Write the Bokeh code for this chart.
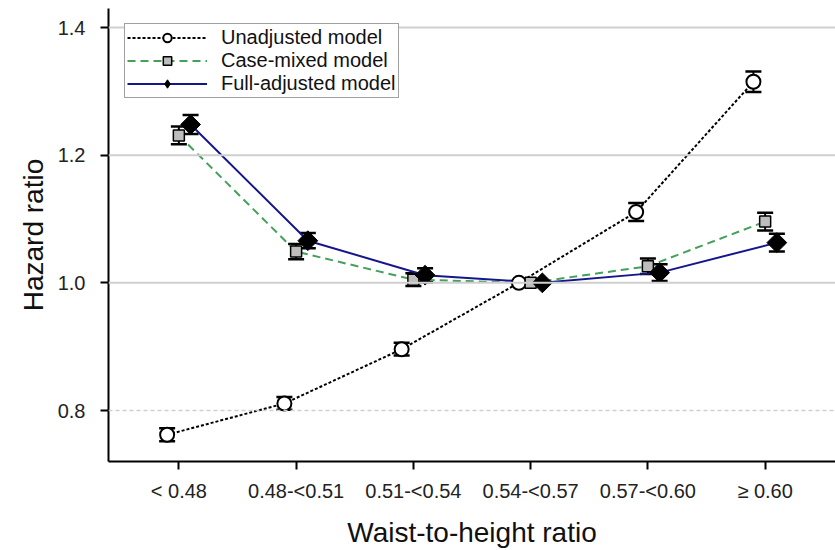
import math
from bokeh.plotting import figure
from bokeh.models import (ColumnDataSource, FactorRange, Range1d, Span, Whisker, TeeHead,
                          Legend, LegendItem, FixedTicker, PrintfTickFormatter)
from bokeh.transform import dodge
from bokeh.embed import file_html
from bokeh.resources import INLINE

categories = ["< 0.48", "0.48-<0.51", "0.51-<0.54", "0.54-<0.57", "0.57-<0.60", "\u2265 0.60"]

unadj_hr = [0.762, 0.811, 0.896, 1.000, 1.111, 1.315]
unadj_err = [0.010, 0.010, 0.010, 0.000, 0.014, 0.016]

case_hr = [1.231, 1.049, 1.005, 1.000, 1.026, 1.096]
case_err = [0.014, 0.012, 0.010, 0.000, 0.012, 0.014]

full_hr = [1.248, 1.066, 1.012, 1.000, 1.016, 1.063]
full_err = [0.015, 0.012, 0.011, 0.000, 0.013, 0.014]

y_ticks = [0.8, 1.0, 1.2, 1.4]
grid_solid = [1.0, 1.2, 1.4]
grid_dashed = [0.8]

FONT = "Liberation Sans"

def make_src(hr, err):
    return ColumnDataSource(dict(
        cat=categories, hr=hr,
        lower=[h - e for h, e in zip(hr, err)],
        upper=[h + e for h, e in zip(hr, err)],
    ))

src_u = make_src(unadj_hr, unadj_err)
src_c = make_src(case_hr, case_err)
src_f = make_src(full_hr, full_err)

p = figure(width=835, height=550, output_backend="svg", toolbar_location=None,
           x_range=FactorRange(factors=categories, range_padding=0.1,
                               range_padding_units="absolute"),
           y_range=Range1d(0.7201, 1.4298),
           min_border_left=108, min_border_right=0, min_border_top=8, min_border_bottom=89)

p.outline_line_color = None
p.xgrid.grid_line_color = None
p.ygrid.grid_line_color = None
p.background_fill_color = "white"

for lv in grid_solid:
    p.add_layout(Span(location=lv, dimension="width", line_color="#cfcfcf", line_width=2))
for lv in grid_dashed:
    p.add_layout(Span(location=lv, dimension="width", line_color="#cfcfcf", line_width=1.5,
                      line_dash="4 3"))

off = 0.1
xu = dodge("cat", -off, range=p.x_range)
xc = dodge("cat", 0.0, range=p.x_range)
xf = dodge("cat", off, range=p.x_range)

lu = p.line(x=xu, y="hr", source=src_u, line_color="black", line_width=2, line_dash="3 2")
lc = p.line(x=xc, y="hr", source=src_c, line_color="#45a05c", line_width=2, line_dash="8 5")
lf = p.line(x=xf, y="hr", source=src_f, line_color="#16168c", line_width=2)

for src, xx in ((src_u, xu), (src_c, xc), (src_f, xf)):
    w = Whisker(base=xx, upper="upper", lower="lower", source=src, dimension="height",
                line_color="black", line_width=2,
                upper_head=TeeHead(size=16, line_color="black", line_width=2.5),
                lower_head=TeeHead(size=16, line_color="black", line_width=2.5))
    p.add_layout(w)

mu = p.scatter(x=xu, y="hr", source=src_u, marker="circle", size=14,
               fill_color="white", line_color="black", line_width=2)
mc = p.scatter(x=xc, y="hr", source=src_c, marker="square", size=11,
               fill_color="#bdbdbd", line_color="black", line_width=1.5)
# diamond (used for the legend sample), covered by the rotated square below
md = p.scatter(x=xf, y="hr", source=src_f, marker="diamond", size=13,
               fill_color="black", line_color="black", line_width=1)
mf = p.scatter(x=xf, y="hr", source=src_f, marker="square", size=14, angle=math.pi / 4,
               fill_color="black", line_color="black", line_width=1)

legend = Legend(items=[
    LegendItem(label="Unadjusted model", renderers=[lu, mu]),
    LegendItem(label="Case-mixed model", renderers=[lc, mc]),
    LegendItem(label="Full-adjusted model", renderers=[lf, md]),
], location=(16, 363), orientation="vertical")
legend.label_text_font = FONT
legend.label_text_font_size = "20px"
legend.label_text_color = "#111111"
legend.glyph_width = 80
legend.glyph_height = 21
legend.label_height = 21
legend.spacing = 0
legend.padding = 2
legend.margin = 0
legend.label_standoff = 14
legend.border_line_color = "#444444"
legend.border_line_width = 1.2
legend.background_fill_alpha = 1
p.add_layout(legend, "center")

# axes
p.yaxis.ticker = FixedTicker(ticks=y_ticks)
p.yaxis.formatter = PrintfTickFormatter(format="%.1f")
p.yaxis.axis_label = "Hazard ratio"
p.xaxis.axis_label = "Waist-to-height ratio"
for ax in (p.xaxis[0], p.yaxis[0]):
    ax.axis_line_width = 2
    ax.axis_line_color = "black"
    ax.major_tick_line_width = 2
    ax.major_tick_line_color = "black"
    ax.major_tick_out = 8
    ax.major_tick_in = 0
    ax.minor_tick_line_color = None
    ax.major_label_text_font = FONT
    ax.major_label_text_font_size = "20px"
    ax.major_label_text_color = "#222222"
    ax.axis_label_text_font = FONT
    ax.axis_label_text_font_size = "28px"
    ax.axis_label_text_font_style = "normal"
    ax.axis_label_text_color = "#111111"
p.xaxis.major_label_standoff = 10
p.xaxis.axis_label_standoff = 12
p.yaxis.major_label_standoff = 15
p.yaxis.axis_label_standoff = 6

open("out.html", "w").write(file_html(p, INLINE))
